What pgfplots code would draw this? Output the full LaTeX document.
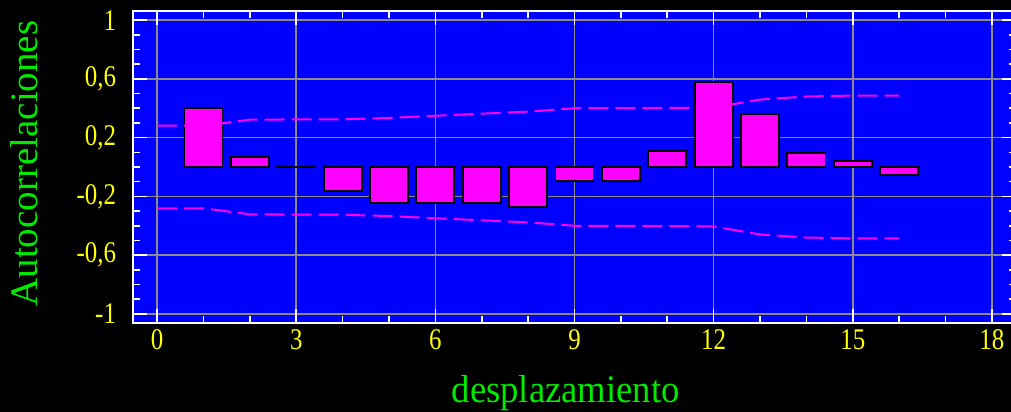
\documentclass[border=0pt]{standalone}
\usepackage{pgfplots}
\pgfplotsset{compat=1.18}
\usepackage{fontspec}
\setmainfont{Liberation Serif}
\newfontfamily\tickfont[FakeStretch=0.83]{Liberation Serif}
\newfontfamily\labfont[FakeStretch=0.94]{Liberation Serif}
\definecolor{bgblue}{RGB}{0,0,255}
\definecolor{barmag}{RGB}{255,0,255}
\definecolor{tickyel}{RGB}{255,255,0}
\definecolor{labgreen}{RGB}{0,235,0}
\definecolor{gridgray}{RGB}{140,140,140}
\begin{document}
\begin{tikzpicture}
\fill[black] (-66.5bp,-44.5bp) rectangle (439bp,161.5bp);
\begin{axis}[
  at={(0,0)}, anchor=south west,
  scale only axis,
  width=441.5bp, height=156bp,
  xmin=-0.52, xmax=18.52,
  ymin=-1.062, ymax=1.062,
  axis background/.style={fill=bgblue},
  axis line style={white, line width=1bp},
  xtick={0,3,6,9,12,15,18},
  xticklabels={0,3,6,9,12,15,18},
  ytick={-1,-0.6,-0.2,0.2,0.6,1},
  yticklabels={{-1},{-0,6},{-0,2},{0,2},{0,6},{1}},
  minor x tick num=2,
  minor y tick num=3,
  tick align=inside,
  tick pos=both,
  major tick length=7bp,
  minor tick length=3.5bp,
  every tick/.style={draw=white, line width=0.8bp},
  grid=major,
  major grid style={draw=gridgray, color=gridgray, line width=0.75bp},
  ticklabel style={font=\tickfont\fontsize{15bp}{18bp}\selectfont, color=tickyel},
  yticklabel style={xshift=-5bp},
  every axis x label/.style={at={(axis description cs:0.49,-0.256)}, anchor=base, font=\labfont\fontsize{19.5bp}{23bp}\selectfont, color=labgreen},
  every axis y label/.style={at={(axis description cs:-0.1076,0.511)}, rotate=90, anchor=base, font=\fontsize{19.5bp}{23bp}\selectfont, color=labgreen},
  xlabel={desplazamiento},
  ylabel={Autocorrelaciones},
]
\addplot[ybar, bar width=0.82, fill=barmag, draw=black, line width=0.9bp] coordinates {
 (1,0.400) (2,0.068) (3,0.004) (4,-0.163) (5,-0.245) (6,-0.245) (7,-0.245) (8,-0.273)
 (9,-0.095) (10,-0.095) (11,0.108) (12,0.577) (13,0.357) (14,0.097) (15,0.040) (16,-0.053)
};
\addplot[barmag, line width=1bp, dash pattern=on 10bp off 3.5bp, sharp plot, mark=none] coordinates {
 (0,0.281) (1,0.281) (2,0.322) (3,0.324) (4,0.325) (5,0.334) (6,0.349) (7,0.363) (8,0.377)
 (9,0.400) (10,0.401) (11,0.402) (12,0.405) (13,0.459) (14,0.480) (15,0.486) (16,0.486)
};
\addplot[barmag, line width=1bp, dash pattern=on 10bp off 3.5bp, sharp plot, mark=none] coordinates {
 (0,-0.281) (1,-0.281) (2,-0.322) (3,-0.324) (4,-0.325) (5,-0.334) (6,-0.349) (7,-0.363) (8,-0.377)
 (9,-0.400) (10,-0.401) (11,-0.402) (12,-0.405) (13,-0.459) (14,-0.480) (15,-0.486) (16,-0.486)
};
\end{axis}
\pgfresetboundingbox
\path[use as bounding box] (-66.5bp,-44.5bp) rectangle (439bp,161.5bp);
\end{tikzpicture}
\end{document}
